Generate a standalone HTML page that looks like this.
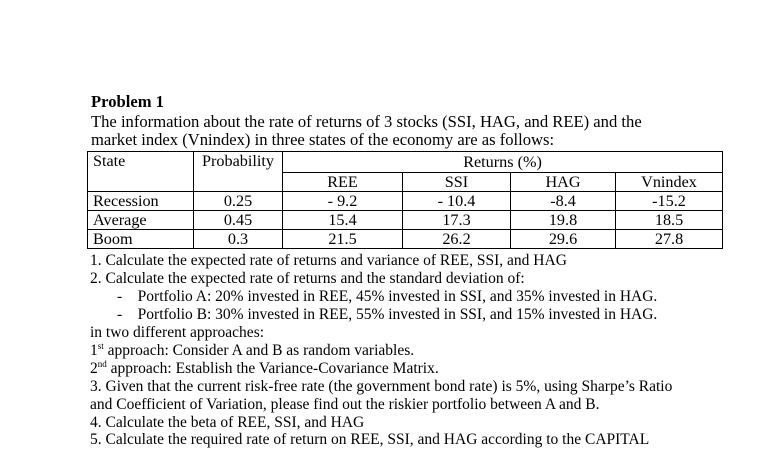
<!DOCTYPE html>
<html><head><style>
body{margin:0;width:784px;height:441px;background:#fff;overflow:hidden;position:relative;font-family:"Liberation Serif",serif;font-size:15.5px;color:#000}
.l{position:absolute;left:91px;line-height:18px;white-space:nowrap}
.t{font-size:16.6px}
table{position:absolute;left:87px;top:151px;border-collapse:collapse;width:635px;table-layout:fixed}
td{border:1px solid #000;padding:0 5px;height:18px;line-height:18px;text-align:center;font-size:16.2px;overflow:hidden;white-space:nowrap}
tr.d td{height:18px}
td.s{text-align:left}
sup{font-size:9px;line-height:0}
</style></head><body>
<div class="l t" style="top:93px;font-weight:bold">Problem 1</div>
<div class="l t" style="top:113px">The information about the rate of returns of 3 stocks (SSI, HAG, and REE) and the</div>
<div class="l t" style="top:131px">market index (Vnindex) in three states of the economy are as follows:</div>
<table>
<colgroup><col style="width:106px"><col style="width:89px"><col style="width:120px"><col style="width:108px"><col style="width:105px"><col style="width:107px"></colgroup>
<tr><td class="s" rowspan="2" style="vertical-align:top">State</td><td rowspan="2" style="vertical-align:top">Probability</td><td colspan="4" style="height:20px">Returns (%)</td></tr>
<tr><td>REE</td><td>SSI</td><td>HAG</td><td>Vnindex</td></tr>
<tr class="d"><td class="s">Recession</td><td>0.25</td><td>- 9.2</td><td>- 10.4</td><td>-8.4</td><td>-15.2</td></tr>
<tr class="d"><td class="s">Average</td><td>0.45</td><td>15.4</td><td>17.3</td><td>19.8</td><td>18.5</td></tr>
<tr class="d"><td class="s">Boom</td><td>0.3</td><td>21.5</td><td>26.2</td><td>29.6</td><td>27.8</td></tr>
</table>
<div class="l" style="top:252px;left:90px">1. Calculate the expected rate of returns and variance of REE, SSI, and HAG</div>
<div class="l" style="top:270px;left:90px">2. Calculate the expected rate of returns and the standard deviation of:</div>
<div class="l" style="top:288px;left:117px">-&nbsp;&nbsp;&nbsp;&nbsp;Portfolio A: 20% invested in REE, 45% invested in SSI, and 35% invested in HAG.</div>
<div class="l" style="top:306px;left:117px">-&nbsp;&nbsp;&nbsp;&nbsp;Portfolio B: 30% invested in REE, 55% invested in SSI, and 15% invested in HAG.</div>
<div class="l" style="top:324px;left:90px">in two different approaches:</div>
<div class="l" style="top:342px;left:90px">1<sup>st</sup> approach: Consider A and B as random variables.</div>
<div class="l" style="top:360px;left:90px">2<sup>nd</sup> approach: Establish the Variance-Covariance Matrix.</div>
<div class="l" style="top:378px;left:90px">3. Given that the current risk-free rate (the government bond rate) is 5%, using Sharpe’s Ratio</div>
<div class="l" style="top:396px;left:90px">and Coefficient of Variation, please find out the riskier portfolio between A and B.</div>
<div class="l" style="top:414px;left:90px">4. Calculate the beta of REE, SSI, and HAG</div>
<div class="l" style="top:431px;left:90px">5. Calculate the required rate of return on REE, SSI, and HAG according to the CAPITAL</div>
</body></html>
